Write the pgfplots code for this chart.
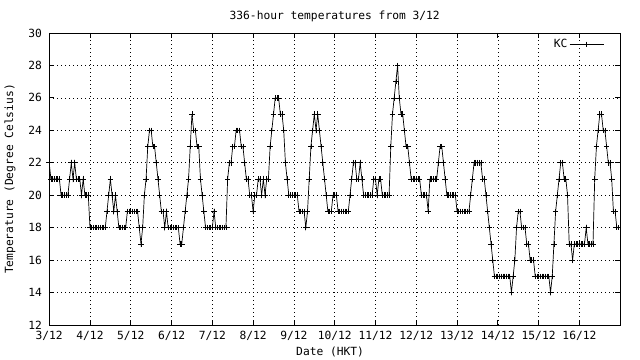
\documentclass[border=0pt]{standalone}
\usepackage{fontspec}
\setmainfont{DejaVu Sans Mono}
\usepackage{pgfplots}
\pgfplotsset{compat=1.18}
\begin{document}
\begin{tikzpicture}[font=\fontsize{11.3}{13}\selectfont]
\path[use as bounding box] (0,0) rectangle (640bp,360bp);
\begin{axis}[
  at={(49.2bp,35bp)}, anchor=south west,
  scale only axis, width=571bp, height=292bp,
  xmin=0, xmax=336, ymin=12, ymax=30,
  xtick={0,24,...,312},
  xticklabels={3/12,4/12,5/12,6/12,7/12,8/12,9/12,10/12,11/12,12/12,13/12,14/12,15/12,16/12},
  ytick={12,14,...,30},
  /pgf/number format/assume math mode=true,
  grid=major,
  major grid style={black, line width=0.6bp, dash pattern=on 0.8bp off 3.2bp},
  axis line style={black, line width=0.8bp},
  tick style={black, line width=0.8bp},
  major tick length=5bp,
  tick align=inside, tick pos=both,
  tick label style={inner sep=0pt},
  yticklabel style={xshift=-7bp},
  xticklabel style={yshift=-6bp},
  every axis title shift=0pt,
  title={336-hour temperatures from 3/12},
  title style={at={(0.5,1)}, anchor=center, yshift=16.5bp, inner sep=0pt},
  xlabel={Date (HKT)},
  xlabel style={at={(axis description cs:0.492,-0.0925)}, anchor=center, inner sep=0pt},
  ylabel={Temperature (Degree Celsius)},
  ylabel style={at={(axis description cs:-0.0685,0.5)}, anchor=center, inner sep=0pt},
  legend style={draw=none, fill=none, at={(0.972,0.985)}, anchor=north east, inner sep=0pt,
    font=\fontsize{11.3}{13}\selectfont},
  legend plot pos=right,
  legend cell align=right,
  legend image code/.code={\draw[mark repeat=2,mark phase=2,#1] plot coordinates {(0bp,0bp) (17bp,0bp) (34bp,0bp)};},
]
\addplot[black, line width=0.7bp, mark=+, mark size=2.8bp, mark options={solid, line width=0.7bp}]
  table[x expr=\coordindex, y=t, row sep=\\] {
t\\
22\\21\\21\\21\\21\\21\\21\\20\\20\\20\\20\\20\\21\\22\\21\\22\\21\\21\\21\\20\\21\\20\\20\\20\\
18\\18\\18\\18\\18\\18\\18\\18\\18\\18\\19\\20\\21\\20\\19\\20\\19\\18\\18\\18\\18\\18\\19\\19\\
19\\19\\19\\19\\19\\18\\17\\18\\20\\21\\23\\24\\24\\23\\23\\22\\21\\20\\19\\19\\18\\19\\18\\18\\
18\\18\\18\\18\\18\\17\\17\\18\\19\\20\\21\\23\\25\\24\\24\\23\\23\\21\\20\\19\\18\\18\\18\\18\\
18\\19\\18\\18\\18\\18\\18\\18\\18\\21\\22\\22\\23\\23\\24\\24\\24\\23\\23\\22\\21\\21\\20\\20\\
19\\20\\20\\21\\21\\20\\21\\20\\21\\21\\23\\24\\25\\26\\26\\26\\25\\25\\24\\22\\21\\20\\20\\20\\
20\\20\\20\\19\\19\\19\\19\\18\\19\\21\\23\\24\\25\\24\\25\\24\\23\\22\\21\\20\\19\\19\\19\\20\\
20\\20\\19\\19\\19\\19\\19\\19\\19\\20\\21\\22\\22\\21\\21\\22\\21\\20\\20\\20\\20\\20\\20\\21\\
21\\20\\21\\21\\20\\20\\20\\20\\20\\23\\25\\26\\27\\28\\26\\25\\25\\24\\23\\23\\22\\21\\21\\21\\
21\\21\\21\\20\\20\\20\\20\\19\\21\\21\\21\\21\\21\\22\\23\\23\\22\\21\\20\\20\\20\\20\\20\\20\\
19\\19\\19\\19\\19\\19\\19\\19\\20\\21\\22\\22\\22\\22\\22\\21\\21\\20\\19\\18\\17\\16\\15\\15\\
15\\15\\15\\15\\15\\15\\15\\15\\14\\15\\16\\18\\19\\19\\18\\18\\18\\17\\17\\16\\16\\16\\15\\15\\
15\\15\\15\\15\\15\\15\\15\\14\\15\\17\\19\\20\\21\\22\\22\\21\\21\\20\\17\\17\\16\\17\\17\\17\\
17\\17\\17\\17\\18\\17\\17\\17\\17\\21\\23\\24\\25\\25\\24\\24\\23\\22\\22\\21\\19\\19\\18\\18\\
};
\addlegendentry{KC}
\end{axis}
\end{tikzpicture}
\end{document}
